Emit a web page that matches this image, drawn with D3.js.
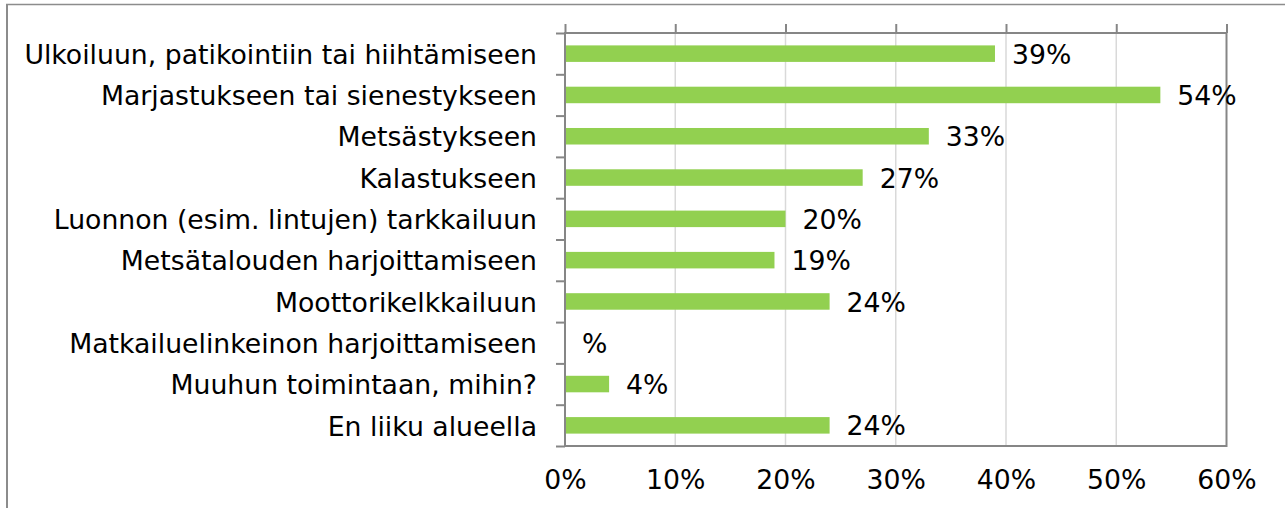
<!DOCTYPE html>
<html>
<head>
<meta charset="utf-8">
<script src="https://cdn.jsdelivr.net/npm/d3@7"></script>
<style>
  body { margin: 0; background: #fff; }
  svg text { font-family: "DejaVu Sans", Verdana, sans-serif; fill: #000; }
</style>
</head>
<body>
<div class="holder"></div>
<script>
// categories top to bottom
var categories = [
    "Ulkoiluun, patikointiin tai hiihtämiseen",
    "Marjastukseen tai sienestykseen",
    "Metsästykseen",
    "Kalastukseen",
    "Luonnon (esim. lintujen) tarkkailuun",
    "Metsätalouden harjoittamiseen",
    "Moottorikelkkailuun",
    "Matkailuelinkeinon harjoittamiseen",
    "Muuhun toimintaan, mihin?",
    "En liiku alueella"
]
// percent, null = no answer (label shows just "%")
var values = [39, 54, 33, 27, 20, 19, 24, null, 4, 24]
var xTicks = [0, 10, 20, 30, 40, 50, 60]

var width = 1285,
    height = 508;

var fontSize = "26.7px"

// note: "top" is reserved on window, so use plot* names
var plotLeft = 565, plotRight = 1226.5, plotTop = 33, plotBottom = 446;

var svg = d3.select(".holder").append("svg")
    .attr("width", width)
    .attr("height", height)

// outer frame of the chart object (only top and left are visible)
svg.append("line")
    .attr("x1", 6).attr("x2", width).attr("y1", 4.5).attr("y2", 4.5)
    .style("stroke", "#8c8c8c").style("stroke-width", 1.5)
svg.append("line")
    .attr("x1", 7).attr("x2", 7).attr("y1", 4).attr("y2", height)
    .style("stroke", "#8c8c8c").style("stroke-width", 2)

var x = d3.scaleLinear().domain([0, 60]).range([plotLeft, plotRight])
var y = d3.scaleBand().domain(categories).range([plotTop, plotBottom])
    .paddingInner(0.6).paddingOuter(0.3)

// vertical gridlines
svg.append("g")
    .selectAll("line")
    .data(xTicks.slice(1, -1))
    .enter().append("line")
    .attr("x1", d => x(d)).attr("x2", d => x(d))
    .attr("y1", plotTop).attr("y2", plotBottom)
    .style("stroke", "#d9d9d9").style("stroke-width", 1.5)

// bars
svg.append("g")
    .selectAll("rect")
    .data(categories)
    .enter().append("rect")
    .attr("x", x(0))
    .attr("y", d => y(d))
    .attr("width", (d, i) => x(values[i] || 0) - x(0))
    .attr("height", y.bandwidth())
    .style("fill", "#92d050")

// plot border
svg.append("rect")
    .attr("x", plotLeft).attr("y", plotTop)
    .attr("width", plotRight - plotLeft).attr("height", plotBottom - plotTop)
    .style("fill", "none").style("stroke", "#868686").style("stroke-width", 2)

// top axis ticks (no labels)
var topAxis = svg.append("g")
    .attr("transform", "translate(0," + plotTop + ")")
    .call(d3.axisTop(x).tickValues(xTicks).tickSize(9).tickFormat(""))
topAxis.select(".domain").remove()
topAxis.selectAll("line").style("stroke", "#868686").style("stroke-width", 2)

// bottom tick labels
var botAxis = svg.append("g")
    .attr("transform", "translate(0," + plotBottom + ")")
    .call(d3.axisBottom(x).tickValues(xTicks).tickSize(0).tickPadding(24)
        .tickFormat(d => d + "%"))
botAxis.select(".domain").remove()
botAxis.selectAll("text").style("font-size", fontSize).attr("dy", "0.71em")

// left category boundary ticks
var yEdge = d3.scaleLinear().domain([0, categories.length]).range([plotTop, plotBottom])
var leftTicks = svg.append("g")
    .attr("transform", "translate(" + plotLeft + ",0)")
    .call(d3.axisLeft(yEdge).tickValues(d3.range(categories.length + 1)).tickSize(9).tickFormat(""))
leftTicks.select(".domain").remove()
leftTicks.selectAll("line").style("stroke", "#868686").style("stroke-width", 2)

// category labels
var labelAxis = svg.append("g")
    .attr("transform", "translate(" + plotLeft + ",0)")
    .call(d3.axisLeft(y).tickSize(0).tickPadding(28))
labelAxis.select(".domain").remove()
labelAxis.selectAll("text").style("font-size", fontSize).attr("dy", "0.38em")

// value labels
svg.append("g")
    .selectAll("text")
    .data(categories)
    .enter().append("text")
    .attr("x", (d, i) => x(values[i] || 0) + 17)
    .attr("y", d => y(d) + y.bandwidth() / 2)
    .attr("dy", "0.38em")
    .style("font-size", fontSize)
    .text((d, i) => (values[i] == null ? "" : values[i]) + "%")
</script>
</body>
</html>
